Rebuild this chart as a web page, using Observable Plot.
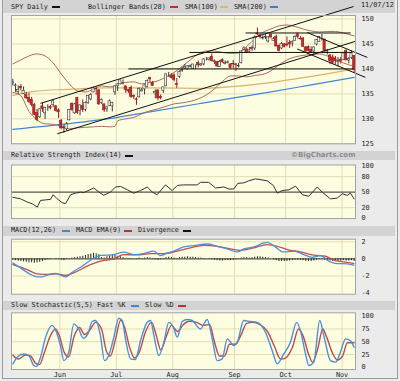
<!DOCTYPE html>
<html><head><meta charset="utf-8">
<script src="https://cdn.jsdelivr.net/npm/d3@7"></script>
<script src="https://cdn.jsdelivr.net/npm/@observablehq/plot@0.6"></script>
<style>
html,body{margin:0;padding:0;background:#fff;}
#chart{position:relative;width:400px;height:381px;background:#ebebeb;overflow:hidden;font-family:"DejaVu Sans Mono",monospace;font-size:6.8px;color:#222;}
#outer{position:absolute;left:2px;top:0;width:394px;height:378px;border:1px solid #9c9c9c;border-top:none;}
.band{position:absolute;left:3px;width:392px;background:#d3d3d3;}
.lbl{position:absolute;white-space:nowrap;line-height:7px;}
.dash{position:absolute;width:8px;height:2px;}
</style></head><body><div id="chart"><div id="outer"></div></div>
<script>
// ---------- data ----------
const monthIdx=[18,39,60,83,102,123];
const monthLabels=["Jun","Jul","Aug","Sep","Oct","Nov"];
const priceTicks=[125,130,135,140,145,150];
const rsiTicks=[0,20,50,80,100];
const macdTicks=[-4,-2,0,2];
const stochTicks=[0,25,50,75,100];

const open=[137.1,136.6,135.4,136.4,135.0,134.8,134.2,133.8,132.8,131.2,
130.3,132.5,131.1,132.4,132.4,132.8,132.5,131.7,129.6,128.3,
127.9,129.7,133.0,131.1,134.2,131.6,132.6,131.8,133.2,133.9,
135.3,136.0,135.7,133.2,132.9,131.9,132.6,132.5,135.3,136.5,
136.9,137.0,136.5,135.8,136.2,134.6,133.9,134.3,135.5,135.9,
136.4,138.2,137.2,135.1,135.7,134.4,135.6,136.5,138.8,138.6,
138.7,137.0,138.4,139.5,140.1,139.9,140.4,140.0,140.7,141.2,
140.7,140.9,142.1,141.8,142.4,141.4,141.4,140.4,141.8,141.0,
141.2,140.9,140.9,140.9,140.5,141.2,143.8,143.9,143.4,144.2,
144.1,147.1,146.7,146.1,146.3,145.5,146.9,145.6,146.4,144.6,
144.1,144.9,144.9,145.2,145.1,145.6,146.9,146.0,146.1,144.3,
144.4,143.8,143.5,144.9,145.4,146.0,145.9,143.5,142.7,142.3,
142.1,141.4,141.8,141.8,143.6,141.7,142.2,142.6];
const high=[137.9,137.0,136.6,136.9,136.4,135.3,135.1,134.3,133.1,131.9,
132.0,133.1,132.3,132.8,132.7,133.8,132.7,132.0,129.9,128.7,
129.3,131.9,133.2,133.1,134.3,132.8,133.8,133.4,134.6,135.1,
136.3,136.4,135.9,134.0,133.0,132.5,133.8,133.3,136.5,137.0,
137.7,137.8,136.6,135.9,136.6,134.8,134.2,136.2,136.1,136.8,
137.8,138.3,137.5,135.8,135.8,134.8,136.3,139.0,139.3,139.0,
139.0,138.1,139.6,140.3,140.9,140.6,140.8,140.9,140.8,141.6,
141.1,142.0,142.3,142.2,143.0,141.8,141.5,141.7,142.0,141.6,
141.6,141.0,141.7,141.1,141.1,143.6,144.4,144.2,144.3,144.6,
146.6,148.2,146.9,146.6,146.9,146.5,147.0,146.3,146.8,144.8,
145.3,145.1,146.4,145.7,145.6,146.6,147.2,146.5,146.3,144.5,
144.6,144.4,144.4,145.9,146.5,146.9,145.9,143.9,142.9,142.8,
142.5,142.3,142.3,143.2,143.8,142.3,143.6,142.7];
const low=[136.6,135.3,134.9,135.6,134.9,133.9,133.1,132.4,130.6,129.4,
130.1,131.3,129.9,131.5,131.8,132.3,131.4,130.1,127.8,127.1,
127.6,129.6,131.5,130.9,130.9,130.6,131.3,131.4,132.9,133.6,
135.2,134.7,132.7,132.9,131.3,131.3,132.5,131.4,134.7,135.5,
136.8,136.8,135.1,135.1,134.1,133.9,132.7,134.2,135.4,134.8,
136.2,137.3,136.5,134.0,133.6,133.8,135.1,136.4,138.3,138.0,
137.4,136.1,138.1,139.4,139.9,139.8,140.2,139.9,139.9,140.2,
140.5,140.6,141.6,141.6,141.4,140.9,140.3,140.3,141.2,140.8,
141.0,140.0,140.1,139.5,140.2,141.0,143.6,143.1,143.3,143.5,
143.7,146.7,146.0,145.8,145.9,145.2,146.1,145.5,144.4,143.4,
143.9,144.2,144.4,144.1,144.4,145.5,146.0,145.8,144.4,143.2,
143.4,143.1,142.9,144.6,145.4,145.6,143.4,142.8,140.9,140.9,
140.8,140.4,141.0,141.7,141.6,141.0,141.9,139.2];
const close=[137.3,136.7,135.8,136.1,135.6,134.1,133.4,132.8,130.8,129.8,
131.9,132.0,132.2,132.4,132.1,133.5,131.6,131.3,128.1,128.1,
128.9,131.8,131.8,132.9,131.2,132.7,131.8,133.2,134.6,134.8,
136.1,135.9,132.9,133.8,131.7,132.3,133.5,133.2,136.5,136.9,
137.7,137.1,135.8,135.5,134.4,134.4,133.8,136.0,135.7,136.7,
137.6,137.9,136.6,135.4,134.1,134.1,136.3,138.9,138.8,138.2,
137.8,136.8,139.4,139.7,140.4,140.5,140.6,140.9,140.7,140.7,
140.9,141.9,142.1,142.1,141.6,141.6,140.5,141.4,141.3,141.2,
141.3,140.2,141.0,140.8,140.6,143.5,144.1,143.2,143.7,144.0,
146.3,146.9,146.4,146.2,146.4,146.3,146.3,146.0,144.5,143.6,
145.0,144.4,144.7,144.9,145.4,146.4,146.4,145.9,144.4,143.5,
143.6,143.2,144.3,145.8,146.4,146.0,143.6,143.7,141.6,141.2,
141.6,141.5,141.5,143.1,141.7,142.0,143.1,139.8];

const bbIdx=[0,3,6,9,12,15,18,21,24,27,30,33,36,38,39,42,45,48,51,54,57,60,63,66,69,72,75,78,81,84,87,90,93,96,99,102,105,108,111,114,117,120,123,127];
const bbUpper=[141.0,141.8,142.6,143.0,142.6,141.2,139.0,137.0,135.6,135.4,135.9,136.6,136.4,136.6,137.0,137.3,137.4,137.0,137.3,137.6,138.4,139.3,140.5,141.8,143.0,143.6,143.6,143.3,143.1,143.2,144.5,146.0,147.3,148.0,148.6,148.8,148.5,148.0,147.6,147.4,147.5,147.5,147.2,146.6];
const bbLower=[135.3,134.6,131.5,129.8,129.0,128.9,128.5,128.0,128.2,128.3,128.4,128.5,128.4,128.5,129.6,130.0,130.3,131.0,131.6,132.0,132.5,133.0,133.2,133.5,134.0,134.8,136.0,137.5,138.6,138.6,138.4,138.7,138.9,139.6,140.8,141.8,142.4,142.7,142.9,143.0,142.6,141.9,141.2,140.5];
const sma100Idx=[0,8,20,35,50,70,85,100,110,120,127];
const sma100=[134.7,135.5,135.9,136.2,136.2,136.1,136.6,137.6,138.4,139.3,140.0];
const sma200Idx=[0,20,39,51,70,95,110,127];
const sma200=[127.9,129.0,130.3,131.4,133.1,135.3,136.7,138.3];

// trend lines drawn on the price panel (trading-day index, price)
const trendX1=[10.3,16.5,86.6,65.7,43,109.5,105.8];
const trendY1=[133.1,127.0,147.2,143.3,140.0,147.3,144.0];
const trendX2=[126.8,127.3,125.7,126.4,126.8,131.9,131.2];
const trendY2=[152.5,145.5,147.2,143.3,140.0,142.3,138.3];

const rsiIdx=[0,2.9,5.3,7.2,9.1,10.3,14,15,16.5,18.4,19.6,21.5,23.3,25.2,26.4,30.1,32.6,33.8,36.3,38.2,40.1,42.6,45,47.5,50,51.9,53.7,56.8,59.3,61.2,63.6,68.6,69.8,72.9,75.4,78.5,80.4,82.2,83.7,86,87.8,90.3,94.6,96.9,98.4,100.2,102.7,105.2,107.7,110.1,113.3,115.1,118.2,120.7,122.6,124.4,125.6,127];
const rsiVal=[40,37,31,27.6,21,34,36,45,37,29.5,27.6,45,48,50,49,58,48,44,50,60,61,54.6,48,53,60,50,45,64,53,63,64,64,69,69,58,60,56,56,67,68,72,75.7,72,63,48,53,54.5,61.6,45,42,60,50,37,38.5,47,43.6,48,37];

const macdIdx=[0,2.85,6.57,9.06,10.92,13.38,15.87,17.73,19.59,22.09,25.81,28.9,32.62,37.57,41.29,45.01,48.73,52.45,54.94,57.43,59.89,63.61,67.33,72.32,76.04,79.76,83.48,85.94,89.66,93.38,94.64,96.51,100.82,104.54,108.26,111.39,114.48,117.57,120.69,124.41,126.87];
const macdVal=[-0.47,-1.05,-1.8,-2.1,-2.1,-1.8,-1.7,-1.9,-2.1,-1.55,-0.85,-0.15,0.4,0.5,0.78,0.5,0.62,0.9,0.39,0.7,0.9,1.4,1.55,1.74,1.47,1.16,0.81,1.16,1.4,1.86,1.94,1.67,0.81,0.9,0.5,0.19,0.39,-0.27,-0.54,-0.58,-0.74];
const sigIdx=[0,5.34,9.06,13.38,16.5,19.59,22.68,27.67,32.62,37.57,41.29,46.27,51.22,56.17,61.16,66.11,71.05,76.04,80.99,84.71,89.66,94.64,98.37,102.09,107.03,111.98,116.33,119.42,123.13,126.87];
const sigVal=[-0.66,-1.24,-1.74,-1.82,-1.74,-1.94,-1.63,-0.85,-0.27,0,0.5,0.47,0.62,0.62,0.9,1.28,1.59,1.47,1.16,1.0,1.28,1.67,1.47,1.09,0.81,0.43,0.31,-0.15,-0.35,-0.54];
const divergence=[-0.15,-0.2,-0.25,-0.3,-0.35,-0.4,-0.45,-0.45,-0.5,-0.45,
-0.4,-0.3,-0.2,-0.1,-0.05,0.0,0.05,-0.05,-0.15,-0.2,
-0.05,0.05,0.1,0.15,0.2,0.25,0.3,0.4,0.5,0.55,
0.65,0.6,0.5,0.15,0.1,0.25,0.35,0.45,0.4,0.3,
0.25,0.15,0.05,-0.05,-0.05,0.0,0.05,0.1,0.05,0.1,
0.15,0.1,-0.05,-0.1,-0.15,-0.1,0.05,0.15,0.2,0.15,
0.1,0.05,0.15,0.2,0.2,0.25,0.2,0.2,0.15,0.1,
0.1,0.05,0.0,-0.05,-0.1,-0.15,-0.2,-0.25,-0.25,-0.2,
-0.2,-0.2,-0.15,-0.1,0.0,0.1,0.15,0.15,0.1,0.15,
0.2,0.25,0.25,0.2,0.15,0.1,0.0,-0.1,-0.2,-0.3,
-0.3,-0.3,-0.3,-0.25,-0.2,-0.15,-0.15,-0.15,-0.2,-0.3,
-0.3,-0.3,-0.25,-0.15,-0.05,-0.05,-0.15,-0.2,-0.25,-0.3,
-0.3,-0.3,-0.25,-0.2,-0.25,-0.25,-0.2,-0.3];

const kIdx=[0,1.6,4.1,5.9,7.8,8.8,10.3,12.2,14.6,16.2,17.7,19,20.8,22.7,24.5,26.2,27.9,29.5,30.8,32.6,34.1,35.7,37.6,39.4,40.7,41.9,43.8,45.6,47.5,50,51.2,52.5,54.3,56.2,58,59.7,61.2,63,64.9,66.7,69.8,72.3,74.2,76,77.9,79.8,82.2,83.7,85.9,88.4,90.9,94,96.5,98.4,100.8,103.3,105.6,107,108.9,110.1,112,114.2,115.7,118.2,120.1,121.9,123.8,125.6,127];
const kVal=[6.6,19.7,26,23,3.3,1.4,19.7,59,82,69,42.5,13,29.5,85,75,57,65,89.6,91.6,62,13,23,59,96,91.6,55.6,16.4,15,52,88,91.6,62,23,49,88,78.5,59,89.6,93.5,91.6,75,93.5,55.6,13,16.4,55.6,42.5,52,91.6,89.6,88,68.6,32.7,6.6,26,49,88,72,26,3.3,10,91.6,62,13,10,29.5,55.6,52,39];
const dIdx=[0,2.1,4.7,6.6,8.4,9.9,11.8,14,15.9,17.4,19.2,20.7,22.9,24.8,26.7,28.5,30.8,33,34.8,36.3,38.2,40.1,41.5,43.4,45.3,47.1,49.4,51.6,53.5,55,57.2,59,61.3,63.5,65.7,68.3,71,73.2,75,76.9,78.8,80.6,82.9,84.8,87,89.2,91.8,94.8,97.4,99.6,101.5,104.1,106.3,108.1,110,111.5,113.4,115.3,116.7,118.9,120.8,122.7,124.5,127];
const dVal=[24,16,24,22,8,5,30,62,75,60,28,20,62,78,64,72,88,75,32,22,55,92,80,40,18,30,70,88,60,34,62,82,70,84,90,88,82,84,50,22,22,45,45,62,86,88,84,70,40,16,18,40,75,60,26,10,35,75,60,28,14,22,48,48];

// ---------- helpers ----------
const chart=document.getElementById("chart");
const pts=(xs,ys)=>xs.map((x,i)=>({x,y:ys[i]}));
const xDomain=[-0.5,open.length-0.5];
const gridX=monthIdx.map(i=>i-0.5);
const monthMap=new Map(gridX.map((g,i)=>[g,monthLabels[i]]));
const BG="#fdfde2", GRID="#e3ddb2";
const baseStyle={fontFamily:"DejaVu Sans Mono, monospace",fontSize:"6.8px",background:"transparent",overflow:"visible",color:"#222"};
function place(svg,top){svg.style.position="absolute";svg.style.left="0px";svg.style.top=top+"px";chart.appendChild(svg);}
function band(top,h){const d=document.createElement("div");d.className="band";d.style.top=top+"px";d.style.height=h+"px";chart.appendChild(d);}
function label(txt,x,y,extra){const s=document.createElement("div");s.className="lbl";s.textContent=txt;s.style.left=x+"px";s.style.top=y+"px";if(extra)Object.assign(s.style,extra);chart.appendChild(s);}
function dash(x,y,c){const d=document.createElement("div");d.className="dash";d.style.left=x+"px";d.style.top=y+"px";d.style.background=c;chart.appendChild(d);}

// ---------- headers ----------
band(0,13);
label("SPY Daily",11,3.5); dash(52,6,"#111");
label("Bollinger Bands(20)",88,3.5); dash(170,6,"#cc2a2a");
label("SMA(100)",185,3.5); dash(220,6,"#e0b860");
label("SMA(200)",234,3.5); dash(270,6,"#3a7fe0");
label("11/07/12",361,2);
band(151,9);
label("Relative Strength Index(14)",11,152.2); dash(125,154.7,"#111");
label("©BigCharts.com",291,151.8,{fontFamily:"DejaVu Sans, sans-serif",fontWeight:"bold",color:"#8c8c8c",fontSize:"7px"});
band(226,9.5);
label("MACD(12,26)",11,227.3); dash(62,230,"#3a8ae0");
label("MACD EMA(9)",76,227.3); dash(124,230,"#cc2a2a");
label("Divergence",138,227.3); dash(183,230,"#111");
band(301,9);
label("Slow Stochastic(5,5) Fast %K",11,302.2); dash(131,304.7,"#3a8ae0");
label("Slow %D",145,302.2); dash(178,304.7,"#cc2a2a");

// ---------- price panel ----------
const candles=open.map((o,i)=>({i,o,h:high[i],l:low[i],c:close[i],up:close[i]>=o}));
const trends=trendX1.map((x,i)=>({x1:x,y1:trendY1[i],x2:trendX2[i],y2:trendY2[i]}));
const main=Plot.plot({
  width:400,height:146,marginTop:15,marginBottom:2.7,marginLeft:11,marginRight:45,
  x:{domain:xDomain,axis:null},y:{domain:[125,150.7],axis:null},
  style:baseStyle,
  marks:[
    Plot.frame({fill:BG}),
    Plot.ruleX(gridX,{stroke:GRID}),
    Plot.ruleY(priceTicks,{stroke:GRID}),
    Plot.line(pts(sma200Idx,sma200),{x:"x",y:"y",stroke:"#3f86d6",strokeWidth:1.2,curve:"monotone-x"}),
    Plot.line(pts(sma100Idx,sma100),{x:"x",y:"y",stroke:"#d9b46a",strokeWidth:1.2,curve:"monotone-x"}),
    Plot.line(pts(bbIdx,bbUpper),{x:"x",y:"y",stroke:"#b06a5c",strokeWidth:1,curve:"monotone-x"}),
    Plot.line(pts(bbIdx,bbLower),{x:"x",y:"y",stroke:"#b06a5c",strokeWidth:1,curve:"monotone-x"}),
    Plot.ruleX(candles,{x:"i",y1:"l",y2:"h",stroke:d=>d.up?"#3a3a3a":"#9a1c1c",strokeWidth:1}),
    Plot.rect(candles,{x1:d=>d.i-0.42,x2:d=>d.i+0.42,y1:d=>Math.min(d.o,d.c),y2:d=>Math.max(d.o,d.c),
      fill:d=>d.up?"#f4f4ee":"#c42b2b",stroke:d=>d.up?"#3a3a3a":"#9a1c1c",strokeWidth:0.6}),
    Plot.link(trends,{x1:"x1",y1:"y1",x2:"x2",y2:"y2",stroke:"#111",strokeWidth:1}),
    Plot.axisY(priceTicks,{anchor:"right",tickSize:0,tickPadding:6,label:null}),
    Plot.frame({stroke:"#a3a3a3"})
  ]
});
place(main,0);

// ---------- RSI panel ----------
const rsi=Plot.plot({
  width:400,height:60,marginTop:4.5,marginBottom:2,marginLeft:11,marginRight:45,
  x:{domain:xDomain,axis:null},y:{domain:[-1,102.5],axis:null},
  style:baseStyle,
  marks:[
    Plot.frame({fill:BG}),
    Plot.ruleX(gridX,{stroke:GRID}),
    Plot.ruleY([20,80],{stroke:GRID}),
    Plot.ruleY([50],{stroke:"#555",strokeWidth:1.4}),
    Plot.line(pts(rsiIdx,rsiVal),{x:"x",y:"y",stroke:"#333",strokeWidth:1}),
    Plot.axisY(rsiTicks,{anchor:"right",tickSize:0,tickPadding:6,label:null}),
    Plot.frame({stroke:"#a3a3a3"})
  ]
});
place(rsi,160);

// ---------- MACD panel ----------
const macd=Plot.plot({
  width:400,height:60,marginTop:3.7,marginBottom:1.3,marginLeft:11,marginRight:45,
  x:{domain:xDomain,axis:null},y:{domain:[-4.12,2.3],axis:null},
  style:baseStyle,
  marks:[
    Plot.frame({fill:BG}),
    Plot.ruleX(gridX,{stroke:GRID}),
    Plot.ruleY([-2,2],{stroke:GRID}),
    Plot.ruleY([0],{stroke:"#555",strokeWidth:1.4}),
    Plot.ruleX(divergence.map((v,i)=>({i,v})),{x:"i",y1:0,y2:"v",stroke:"#222",strokeWidth:1}),
    Plot.line(pts(sigIdx,sigVal),{x:"x",y:"y",stroke:"#c0504d",strokeWidth:1.3,curve:"monotone-x"}),
    Plot.line(pts(macdIdx,macdVal),{x:"x",y:"y",stroke:"#4a90e2",strokeWidth:1.3,curve:"monotone-x"}),
    Plot.axisY(macdTicks,{anchor:"right",tickSize:0,tickPadding:6,tickFormat:d=>String(d),label:null}),
    Plot.frame({stroke:"#a3a3a3"})
  ]
});
place(macd,235);

// ---------- Stochastic panel ----------
const stoch=Plot.plot({
  width:400,height:73,marginTop:4.3,marginBottom:12,marginLeft:11,marginRight:45,
  x:{domain:xDomain,axis:null},y:{domain:[-4.5,106.7],axis:null},
  style:baseStyle,
  marks:[
    Plot.frame({fill:BG}),
    Plot.ruleX(gridX,{stroke:GRID}),
    Plot.ruleY([25,50,75],{stroke:GRID}),
    Plot.line(pts(dIdx,dVal),{x:"x",y:"y",stroke:"#bd4b4b",strokeWidth:1.4,curve:"monotone-x"}),
    Plot.line(pts(kIdx,kVal),{x:"x",y:"y",stroke:"#4a8fde",strokeWidth:1.4,curve:"monotone-x"}),
    Plot.axisY(stochTicks,{anchor:"right",tickSize:0,tickPadding:6,label:null}),
    Plot.axisX(gridX,{anchor:"bottom",tickSize:0,tickPadding:3,tickFormat:d=>monthMap.get(d),label:null}),
    Plot.frame({stroke:"#a3a3a3"})
  ]
});
place(stoch,308);
</script></body></html>
